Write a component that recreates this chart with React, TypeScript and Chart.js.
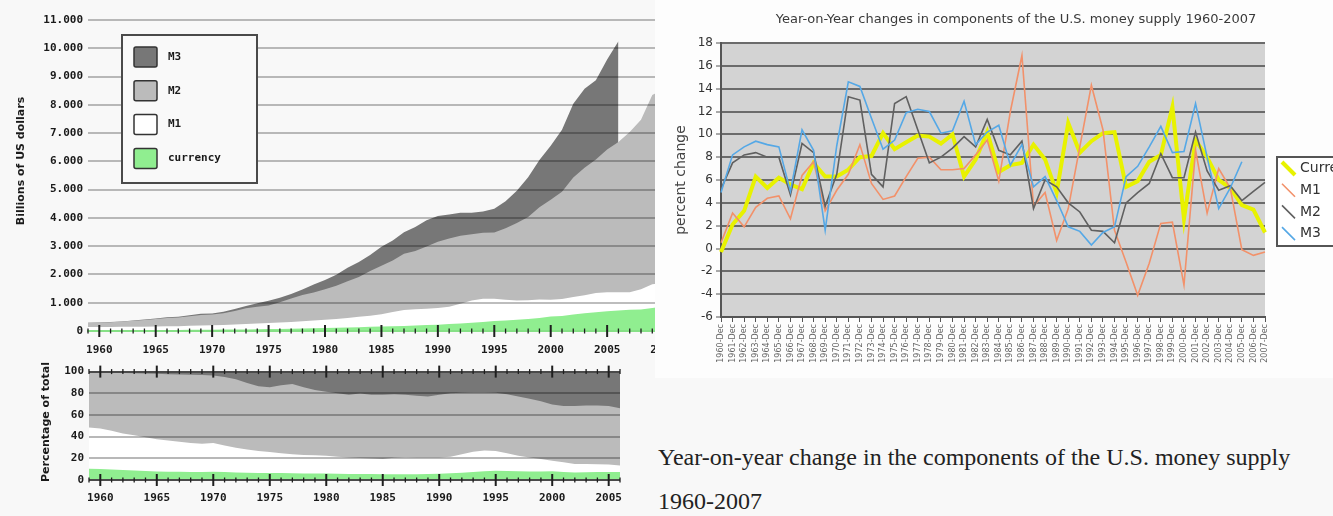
import React, { useEffect, useRef } from "react";
import { Chart, registerables } from "chart.js";

Chart.register(...registerables);

// ---------- Level chart (billions of US dollars) ----------
const LEVEL_YEARS = [1959, 1960, 1961, 1962, 1963, 1964, 1965, 1966, 1967, 1968, 1969, 1970, 1971, 1972, 1973, 1974, 1975, 1976, 1977, 1978, 1979, 1980, 1981, 1982, 1983, 1984, 1985, 1986, 1987, 1988, 1989, 1990, 1991, 1992, 1993, 1994, 1995, 1996, 1997, 1998, 1999, 2000, 2001, 2002, 2003, 2004, 2005, 2006, 2007, 2008, 2009, 2010];
const CURRENCY_LEVEL = [28, 29, 29, 30, 31, 33, 35, 37, 39, 41, 44, 46, 49, 53, 56, 61, 67, 73, 80, 88, 97, 105, 115, 123, 133, 146, 156, 168, 180, 197, 212, 222, 246, 267, 292, 322, 354, 372, 394, 425, 460, 517, 531, 581, 626, 662, 698, 724, 749, 760, 816, 863];
const M1_LEVEL = [139, 140, 141, 146, 149, 154, 160, 167, 171, 182, 197, 204, 214, 229, 250, 263, 285, 300, 320, 345, 372, 398, 425, 458, 500, 540, 590, 670, 740, 770, 790, 812, 860, 960, 1080, 1140, 1140, 1105, 1077, 1085, 1110, 1105, 1135, 1200, 1265, 1340, 1375, 1370, 1370, 1480, 1650, 1700];
const M2_LEVEL = [290, 297, 312, 335, 363, 393, 425, 459, 480, 525, 567, 588, 627, 710, 802, 856, 902, 1016, 1152, 1270, 1366, 1474, 1600, 1756, 1906, 2124, 2306, 2492, 2728, 2826, 2988, 3153, 3272, 3372, 3424, 3474, 3486, 3630, 3819, 4033, 4375, 4638, 4926, 5433, 5772, 6067, 6418, 6682, 7036, 7470, 8350, 8550];
const M3_LEVEL = [295, 300, 315, 340, 371, 405, 442, 482, 505, 557, 607, 616, 677, 776, 886, 985, 1070, 1172, 1311, 1472, 1646, 1803, 1988, 2233, 2442, 2685, 2983, 3197, 3489, 3678, 3917, 4065, 4125, 4180, 4183, 4230, 4320, 4585, 4964, 5435, 6051, 6552, 7117, 8034, 8568, 8872, 9600, 10250];

// ---------- Share chart (percentage of total) ----------
const SHARE_YEARS = [1959, 1960, 1961, 1962, 1963, 1964, 1965, 1966, 1967, 1968, 1969, 1970, 1971, 1972, 1973, 1974, 1975, 1976, 1977, 1978, 1979, 1980, 1981, 1982, 1983, 1984, 1985, 1986, 1987, 1988, 1989, 1990, 1991, 1992, 1993, 1994, 1995, 1996, 1997, 1998, 1999, 2000, 2001, 2002, 2003, 2004, 2005, 2006];
const CURRENCY_SHARE = [10.4, 10.1, 9.7, 9.2, 8.7, 8.2, 7.8, 7.6, 7.5, 7.4, 7.4, 7.5, 7.3, 7.0, 6.7, 6.5, 6.5, 6.4, 6.2, 6.0, 5.9, 5.9, 5.8, 5.6, 5.6, 5.5, 5.4, 5.3, 5.3, 5.4, 5.5, 5.7, 6.2, 6.8, 7.4, 8.0, 8.5, 8.4, 8.1, 7.8, 7.8, 8.0, 7.4, 7.0, 7.2, 7.3, 7.4, 7.3];
const M1_SHARE = [48.4, 47.5, 45.4, 43.0, 41.2, 39.5, 37.7, 36.5, 35.3, 34.1, 33.5, 34.1, 31.8, 29.7, 28.2, 26.7, 25.8, 24.6, 23.7, 23.1, 22.8, 22.3, 21.4, 20.8, 20.2, 19.9, 19.3, 20.5, 21.1, 20.8, 20.8, 20.8, 21.4, 23.7, 26.1, 27.3, 26.7, 24.6, 22.3, 20.8, 19.3, 17.8, 16.3, 14.8, 14.8, 14.5, 14.2, 13.4];
const M2_SHARE = [99.4, 99.0, 98.8, 98.6, 98.4, 98.2, 98.0, 97.6, 97.3, 97.0, 96.8, 96.5, 95.0, 93.0, 89.5, 86.5, 85.5, 87.5, 88.5, 85.5, 83.0, 81.5, 80.0, 78.6, 79.8, 78.6, 78.6, 79.0, 78.6, 77.7, 77.0, 78.6, 80.0, 80.5, 80.8, 80.8, 80.5, 79.0, 77.0, 75.0, 72.7, 69.7, 68.2, 68.2, 68.8, 68.8, 68.2, 66.2];
const M3_SHARE = [100, 100, 100, 100, 100, 100, 100, 100, 100, 100, 100, 100, 100, 100, 100, 100, 100, 100, 100, 100, 100, 100, 100, 100, 100, 100, 100, 100, 100, 100, 100, 100, 100, 100, 100, 100, 100, 100, 100, 100, 100, 100, 100, 100, 100, 100, 100, 100];

// ---------- Year-on-year change chart ----------
const YOY_YEARS = [1960, 1961, 1962, 1963, 1964, 1965, 1966, 1967, 1968, 1969, 1970, 1971, 1972, 1973, 1974, 1975, 1976, 1977, 1978, 1979, 1980, 1981, 1982, 1983, 1984, 1985, 1986, 1987, 1988, 1989, 1990, 1991, 1992, 1993, 1994, 1995, 1996, 1997, 1998, 1999, 2000, 2001, 2002, 2003, 2004, 2005, 2006, 2007];
const CURRENCY_YOY = [-0.3, 2.1, 3.3, 6.3, 5.3, 6.2, 5.6, 5.2, 7.5, 6.3, 6.3, 6.9, 8.0, 8.1, 10.1, 8.7, 9.3, 9.9, 9.8, 9.2, 10.0, 6.3, 7.8, 10.2, 6.7, 7.3, 7.5, 9.1, 7.8, 4.9, 11.0, 8.4, 9.4, 10.1, 10.2, 5.4, 5.9, 7.6, 8.2, 12.4, 2.6, 9.5, 8.0, 6.0, 5.3, 3.8, 3.4, 1.4];
const M1_YOY = [0.5, 3.1, 1.9, 3.6, 4.4, 4.6, 2.6, 6.4, 7.6, 3.3, 5.1, 6.5, 9.1, 5.7, 4.3, 4.6, 6.3, 7.9, 8.0, 6.9, 6.9, 7.0, 8.2, 9.5, 5.9, 12.0, 16.9, 3.7, 4.9, 0.7, 3.5, 8.9, 14.3, 10.4, 1.6, -1.2, -4.1, -1.3, 2.2, 2.3, -3.2, 8.6, 3.1, 7.0, 5.3, -0.1, -0.6, -0.3];
const M2_YOY = [5.2, 7.5, 8.2, 8.4, 8.0, 8.0, 4.7, 9.2, 8.4, 3.7, 6.5, 13.3, 13.0, 6.5, 5.4, 12.7, 13.3, 10.4, 7.5, 8.0, 8.8, 9.8, 8.9, 11.3, 8.6, 8.2, 9.4, 3.5, 6.0, 5.4, 4.0, 3.2, 1.6, 1.5, 0.5, 4.0, 4.9, 5.7, 8.3, 6.2, 6.2, 10.2, 6.8, 5.1, 5.5, 4.2, 5.0, 5.8];
const M3_YOY = [4.9, 8.2, 8.9, 9.4, 9.1, 8.9, 5.0, 10.4, 8.6, 1.6, 9.0, 14.6, 14.2, 11.4, 8.7, 9.5, 11.9, 12.2, 12.0, 10.1, 10.3, 12.9, 9.1, 10.2, 10.8, 7.3, 9.1, 5.4, 6.3, 4.2, 1.9, 1.5, 0.3, 1.4, 1.9, 6.3, 7.2, 8.9, 10.7, 8.4, 8.5, 12.7, 8.0, 3.5, 5.3, 7.6, null, null];
const YOY_LABELS = YOY_YEARS.map((y) => `${y}-Dec`);

const COLORS = { currency: "#90ee90", m1: "#ffffff", m2: "#bbbbbb", m3: "#777777" };
const YOY_COLORS = { currency: "#e8f200", m1: "#f2916a", m2: "#606060", m3: "#55a8e6" };

const MONO = "'DejaVu Sans Mono', monospace";
const SANS = "'DejaVu Sans', sans-serif";

const pts = (xs: number[], ys: (number | null)[]) => ys.map((v, i) => ({ x: xs[i], y: v }));

function yearTicksPlugin(edgeValues: number[]) {
  return {
    id: "yearTicks",
    afterDraw(chart: any) {
      const xs = chart.scales.x;
      const ys = chart.scales.y;
      const { left, right } = chart.chartArea;
      const ctx = chart.ctx;
      ctx.save();
      ctx.strokeStyle = "#1e1e1e";
      for (let yr = Math.ceil(xs.min); yr <= xs.max; yr++) {
        const px = xs.getPixelForValue(yr);
        if (px < left - 0.5 || px > right + 0.5) continue;
        const major = yr % 5 === 0;
        for (const v of edgeValues) {
          const py = ys.getPixelForValue(v);
          ctx.lineWidth = major ? 2 : 1.3;
          const h = major ? 6 : 2.5;
          ctx.beginPath();
          ctx.moveTo(px, py - h);
          ctx.lineTo(px, py + h);
          ctx.stroke();
        }
      }
      ctx.restore();
    },
  };
}

// rotated y-axis title drawn beside the scale
function sideTitlePlugin(text: string, x: number, y: number) {
  return {
    id: "sideTitle",
    afterDraw(chart: any) {
      const ctx = chart.ctx;
      ctx.save();
      ctx.translate(x, y);
      ctx.rotate(-Math.PI / 2);
      ctx.fillStyle = "#1a1a1a";
      ctx.font = `bold 11px ${SANS}`;
      ctx.textAlign = "center";
      ctx.textBaseline = "middle";
      ctx.fillText(text, 0, 0);
      ctx.restore();
    },
  };
}

const levelLegendPlugin = {
  id: "levelLegend",
  afterDraw(chart: any) {
    const ctx = chart.ctx;
    const ds = chart.data.datasets.slice().reverse();
    ctx.save();
    ctx.fillStyle = "#f9f9f9";
    ctx.strokeStyle = "#4a4a4a";
    ctx.lineWidth = 2;
    ctx.fillRect(122, 35, 135, 148);
    ctx.strokeRect(122, 35, 135, 148);
    ds.forEach((d: any, i: number) => {
      const cy = 57 + i * 33.8;
      ctx.beginPath();
      if (ctx.roundRect) ctx.roundRect(134, cy - 10, 23, 20, 2);
      else ctx.rect(134, cy - 10, 23, 20);
      ctx.fillStyle = d.backgroundColor;
      ctx.fill();
      ctx.lineWidth = 1.5;
      ctx.strokeStyle = "#333";
      ctx.stroke();
      ctx.fillStyle = "#1a1a1a";
      ctx.font = `bold 11px ${MONO}`;
      ctx.textBaseline = "middle";
      ctx.textAlign = "left";
      ctx.fillText(d.label, 168, cy);
    });
    ctx.restore();
  },
};

const yoyDecorPlugin = {
  id: "yoyDecor",
  beforeDraw(chart: any) {
    const ctx = chart.ctx;
    const { left, top, width, height } = chart.chartArea;
    ctx.save();
    ctx.fillStyle = "#fdfdfd";
    ctx.fillRect(0, 0, chart.width, chart.height);
    ctx.fillStyle = "#d3d3d3";
    ctx.fillRect(left, top, width, height);
    ctx.fillStyle = "#3a3a3a";
    ctx.font = `13px ${SANS}`;
    ctx.textAlign = "center";
    ctx.textBaseline = "middle";
    ctx.fillText("Year-on-Year changes in components of the U.S. money supply 1960-2007", 361, 20);
    ctx.restore();
  },
  afterDraw(chart: any) {
    const ctx = chart.ctx;
    const ds = chart.data.datasets;
    ctx.save();
    ctx.fillStyle = "#ffffff";
    ctx.strokeStyle = "#555";
    ctx.lineWidth = 2;
    ctx.fillRect(622, 157, 90, 89);
    ctx.strokeRect(622, 157, 90, 89);
    ds.forEach((d: any, i: number) => {
      const cy = 168.5 + i * 21.7;
      ctx.strokeStyle = d.borderColor;
      ctx.lineWidth = d.borderWidth;
      ctx.beginPath();
      ctx.moveTo(627, cy - 6.5);
      ctx.lineTo(640, cy + 6.5);
      ctx.stroke();
      ctx.fillStyle = "#333";
      ctx.font = `14px ${SANS}`;
      ctx.textAlign = "left";
      ctx.textBaseline = "middle";
      ctx.fillText(d.label, 645, cy);
    });
    ctx.restore();
  },
};

function useChart(ref: React.RefObject<HTMLCanvasElement>, build: () => any) {
  useEffect(() => {
    if (!ref.current) return;
    const chart = new Chart(ref.current, build());
    return () => chart.destroy();
  }, []);
}

const areaDs = (label: string, color: string, data: any[]) => ({
  label,
  data,
  backgroundColor: color,
  borderColor: "transparent",
  borderWidth: 0,
  pointRadius: 0,
  fill: "origin",
  tension: 0,
});

export default function App() {
  const levelRef = useRef<HTMLCanvasElement>(null);
  const shareRef = useRef<HTMLCanvasElement>(null);
  const yoyRef = useRef<HTMLCanvasElement>(null);

  useChart(levelRef, () => ({
    type: "line",
    data: {
      datasets: [
        areaDs("currency", COLORS.currency, pts(LEVEL_YEARS, CURRENCY_LEVEL)),
        areaDs("M1", COLORS.m1, pts(LEVEL_YEARS, M1_LEVEL)),
        areaDs("M2", COLORS.m2, pts(LEVEL_YEARS, M2_LEVEL)),
        areaDs("M3", COLORS.m3, pts(LEVEL_YEARS, M3_LEVEL)),
      ],
    },
    options: {
      responsive: false,
      animation: false,
      layout: { padding: { top: 20, left: 0, right: 0, bottom: 0 } },
      plugins: { legend: { display: false }, tooltip: { enabled: false } },
      scales: {
        x: {
          type: "linear",
          min: 1959,
          max: 2015,
          grid: { display: true, drawOnChartArea: false, drawTicks: true, tickLength: 13, tickColor: "rgba(0,0,0,0)" },
          border: { display: true, color: "#86e086", width: 2 },
          ticks: {
            stepSize: 1,
            autoSkip: false,
            maxRotation: 0,
            padding: 0,
            color: "#1a1a1a",
            font: { family: MONO, size: 11, weight: "bold" },
            callback: (v: any) => (v % 5 === 0 && v <= 2010 ? String(v) : ""),
          },
          afterFit: (s: any) => { s.height = 29; },
        },
        y: {
          min: 0,
          max: 11000,
          grid: {
            z: 1,
            drawTicks: false,
            lineWidth: 2,
            color: (c: any) => (c.tick && c.tick.value === 0 ? "#86e086" : "rgba(0,0,0,0.26)"),
          },
          border: { display: false },
          ticks: {
            stepSize: 1000,
            padding: 5,
            color: "#1a1a1a",
            font: { family: MONO, size: 11, weight: "bold" },
            callback: (v: any) => (v === 0 ? "0" : `${v / 1000}.000`),
          },
          afterFit: (s: any) => { s.width = 88; },
        },
      },
    },
    plugins: [yearTicksPlugin([0]), levelLegendPlugin, sideTitlePlugin("Billions of US dollars", 21, 161)],
  }));

  useChart(shareRef, () => ({
    type: "line",
    data: {
      datasets: [
        areaDs("currency", COLORS.currency, pts(SHARE_YEARS, CURRENCY_SHARE)),
        areaDs("M1", COLORS.m1, pts(SHARE_YEARS, M1_SHARE)),
        areaDs("M2", COLORS.m2, pts(SHARE_YEARS, M2_SHARE)),
        areaDs("M3", COLORS.m3, pts(SHARE_YEARS, M3_SHARE)),
      ],
    },
    options: {
      responsive: false,
      animation: false,
      layout: { padding: { top: 8, left: 0, right: 35, bottom: 0 } },
      plugins: { legend: { display: false }, tooltip: { enabled: false } },
      scales: {
        x: {
          type: "linear",
          min: 1959,
          max: 2006,
          grid: { display: true, drawOnChartArea: false, drawTicks: true, tickLength: 12, tickColor: "rgba(0,0,0,0)" },
          border: { display: false },
          ticks: {
            stepSize: 1,
            autoSkip: false,
            maxRotation: 0,
            padding: 0,
            color: "#1a1a1a",
            font: { family: MONO, size: 11, weight: "bold" },
            callback: (v: any) => (v % 5 === 0 ? String(v) : ""),
          },
          afterFit: (s: any) => { s.height = 36; },
        },
        y: {
          min: 0,
          max: 100,
          grid: {
            z: 1,
            drawTicks: false,
            lineWidth: 2,
            color: (c: any) =>
              c.tick && (c.tick.value === 0 || c.tick.value === 100) ? "#4a4a4a" : "rgba(0,0,0,0.28)",
          },
          border: { display: false },
          ticks: {
            stepSize: 20,
            padding: 5,
            color: "#1a1a1a",
            font: { family: MONO, size: 11, weight: "bold" },
          },
          afterFit: (s: any) => { s.width = 89; },
        },
      },
    },
    plugins: [yearTicksPlugin([0, 100]), sideTitlePlugin("Percentage of total", 46, 62)],
  }));

  useChart(yoyRef, () => ({
    type: "line",
    data: {
      labels: YOY_LABELS,
      datasets: [
        { label: "Currency", data: CURRENCY_YOY, borderColor: YOY_COLORS.currency, borderWidth: 4, order: 3 },
        { label: "M1", data: M1_YOY, borderColor: YOY_COLORS.m1, borderWidth: 1.6, order: 2 },
        { label: "M2", data: M2_YOY, borderColor: YOY_COLORS.m2, borderWidth: 1.6, order: 1 },
        { label: "M3", data: M3_YOY, borderColor: YOY_COLORS.m3, borderWidth: 1.6, order: 0 },
      ].map((d) => ({ ...d, pointRadius: 0, tension: 0, fill: false, spanGaps: false })),
    },
    options: {
      responsive: false,
      animation: false,
      layout: { padding: { top: 43, left: 0, right: 68, bottom: 0 } },
      plugins: { legend: { display: false }, title: { display: false }, tooltip: { enabled: false } },
      scales: {
        x: {
          type: "category",
          offset: false,
          grid: { drawOnChartArea: false, drawTicks: true, tickLength: 5, color: "#555", lineWidth: 1 },
          border: { color: "#555", width: 2 },
          ticks: {
            autoSkip: false,
            maxRotation: 90,
            minRotation: 90,
            padding: 2,
            color: "#666",
            font: { family: SANS, size: 8 },
          },
          afterFit: (s: any) => { s.height = 61; },
        },
        y: {
          min: -6,
          max: 18,
          grid: { color: "#6b6b6b", lineWidth: 2, tickLength: 5, tickColor: "#555", tickWidth: 1 },
          border: { color: "#555", width: 2 },
          ticks: { stepSize: 2, padding: 3, color: "#333", font: { family: SANS, size: 12 } },
          title: {
            display: true,
            text: "percent change",
            color: "#444",
            font: { family: SANS, size: 14 },
            padding: { top: 18, bottom: 0 },
          },
          afterFit: (s: any) => { s.width = 66; },
        },
      },
    },
    plugins: [yoyDecorPlugin],
  }));

  return (
    <div style={{ position: "absolute", left: 0, top: 0, width: 1333, height: 516, overflow: "hidden", background: "#f8f8f8" }}>
      <canvas ref={levelRef} width={720} height={360} style={{ position: "absolute", left: 0, top: 0, width: 720, height: 360 }} />
      <canvas ref={shareRef} width={655} height={156} style={{ position: "absolute", left: 0, top: 360, width: 655, height: 156 }} />
      <canvas ref={yoyRef} width={678} height={378} style={{ position: "absolute", left: 655, top: 0, width: 678, height: 378 }} />
      <div
        style={{
          position: "absolute",
          left: 658,
          top: 435,
          fontFamily: "'Liberation Serif', 'Times New Roman', serif",
          fontSize: 24,
          lineHeight: "44px",
          color: "#222",
          whiteSpace: "nowrap",
        }}
      >
        Year-on-year change in the components of the U.S. money supply
        <br />
        1960-2007
      </div>
    </div>
  );
}
